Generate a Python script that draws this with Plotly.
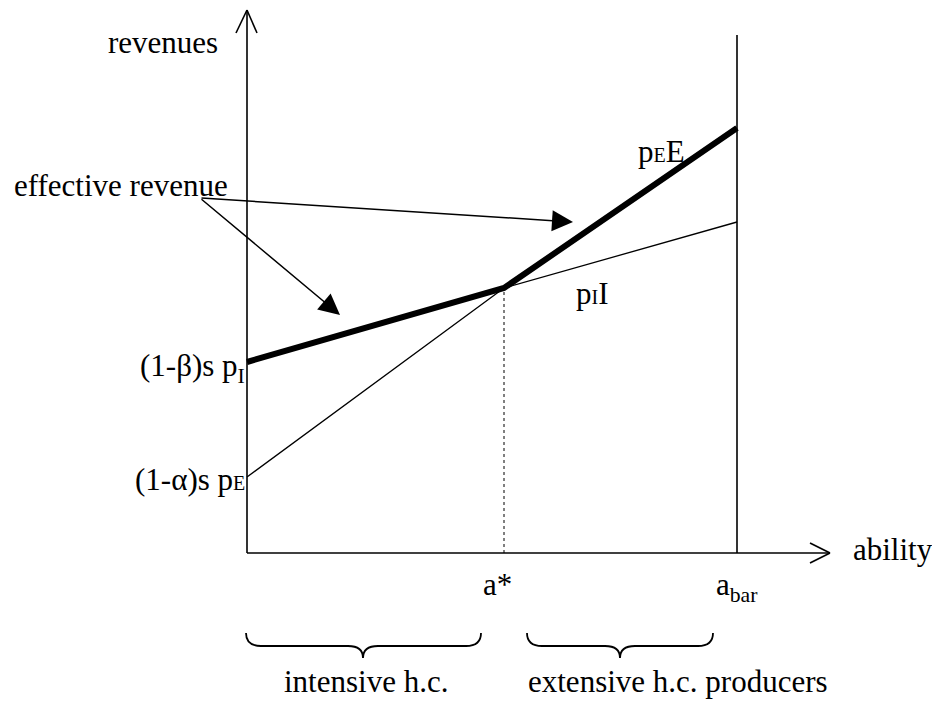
import plotly.graph_objects as go

# ---------------- data (abstract units) ----------------
ability = [0.0, 2.57, 4.90]            # origin, a*, a_bar
pI_line = [1.91, 2.65, 3.31]           # p_I I   (intercept (1-beta)s p_I)
pE_line = [0.76, 2.65, 4.25]           # p_E E   (intercept (1-alpha)s p_E)
effective = [max(a, b) for a, b in zip(pI_line, pE_line)]

a_star = ability[1]
a_bar = ability[2]

FONT = "Liberation Serif"
FS = 31
BLACK = "black"

def small(t):
    return f'<span style="font-size:20px">{t}</span>'

fig = go.Figure()

# thin lines
fig.add_trace(go.Scatter(x=ability, y=pE_line, mode="lines",
                         line=dict(color=BLACK, width=1.3), hoverinfo="skip"))
fig.add_trace(go.Scatter(x=ability, y=pI_line, mode="lines",
                         line=dict(color=BLACK, width=1.3), hoverinfo="skip"))
# effective revenue (thick)
fig.add_trace(go.Scatter(x=ability, y=effective, mode="lines",
                         line=dict(color=BLACK, width=6), hoverinfo="skip"))

shapes = []
def seg(x0, y0, x1, y1, w=1.6, dash="solid"):
    shapes.append(dict(type="line", xref="x", yref="y", x0=x0, y0=y0, x1=x1, y1=y1,
                       line=dict(color=BLACK, width=w, dash=dash)))

# axes with open arrowheads
y_top, x_right = 5.43, 5.83
seg(0, 0, 0, y_top)
seg(0, y_top, -0.11, 5.20)
seg(0, y_top, 0.10, 5.20)
seg(0, 0, x_right, 0)
seg(x_right, 0, 5.63, 0.10)
seg(x_right, 0, 5.63, -0.10)
# vertical at a_bar
seg(a_bar, 0, a_bar, 5.18)
# dotted at a*
seg(a_star, 0, a_star, effective[1], w=1, dash="dot")

# braces
def brace(L, R, C, top=-0.80, mid=-0.93, pt=-1.05, r=0.15):
    p = (f"M {L},{top} Q {L},{mid} {L+r},{mid} L {C-r},{mid} "
         f"Q {C},{mid} {C},{pt} Q {C},{mid} {C+r},{mid} "
         f"L {R-r},{mid} Q {R},{mid} {R},{top}")
    shapes.append(dict(type="path", xref="x", yref="y", path=p,
                       line=dict(color=BLACK, width=1.8)))
brace(-0.01, 2.34, 1.16)
brace(2.80, 4.66, 3.73)

annotations = []
def label(text, x, y, xanchor="left"):
    annotations.append(dict(text=text, x=x, y=y, xref="x", yref="y",
                            xanchor=xanchor, yanchor="middle", showarrow=False,
                            borderpad=0,
                            font=dict(family=FONT, size=FS, color=BLACK)))

label("revenues", -1.40, 5.105)
label("effective revenue", -2.34, 3.675)
label("p" + small("E") + "E", 3.90, 4.015)
label("p" + small("I") + "I", 3.28, 2.595)
label("(1-β)s p<sub>I</sub>", -0.01, 1.85, "right")
label("(1-α)s p" + small("E"), -0.01, 0.735, "right")
label("a*", 2.35, -0.315)
label("a<sub>bar</sub>", 4.68, -0.335)
label("ability", 6.05, 0.035)
label("intensive h.c.", 1.19, -1.285, "center")
label("extensive h.c. producers", 2.80, -1.285)

# effective revenue pointer arrows
def pointer(ax, ay, x, y):
    annotations.append(dict(text="", x=x, y=y, ax=ax, ay=ay, xref="x", yref="y",
                            axref="x", ayref="y", showarrow=True, arrowhead=2,
                            arrowsize=2.8, arrowwidth=1.5, arrowcolor=BLACK,
                            standoff=0, startstandoff=0))
pointer(-0.47, 3.55, 3.26, 3.31)
pointer(-0.47, 3.55, 0.93, 2.38)

# page body has an 8px margin: figure is 924x697, placed at (8, 8)
fig.update_layout(
    width=924, height=697,
    margin=dict(l=0, r=0, t=0, b=0),
    paper_bgcolor="white", plot_bgcolor="white",
    showlegend=False,
    xaxis=dict(range=[-2.39, 6.85], visible=False, fixedrange=True),
    yaxis=dict(range=[-1.52, 5.45], visible=False, fixedrange=True),
    shapes=shapes, annotations=annotations,
)

fig.write_html("out.html")
